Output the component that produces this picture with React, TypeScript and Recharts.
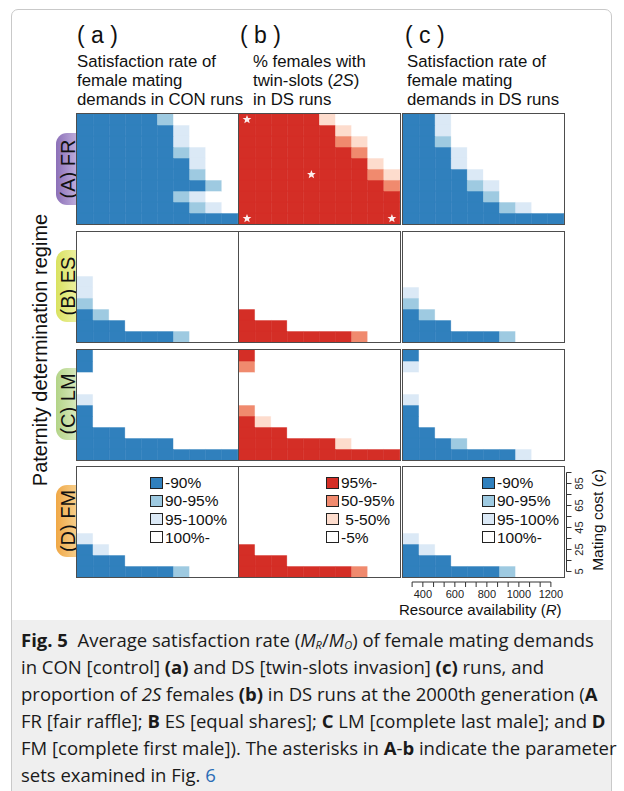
import React from 'react';
import { BarChart, Bar, XAxis, YAxis, Cell, LabelList } from 'recharts';

// resource availability (columns) and mating cost (rows, top to bottom)
const R_VALUES = [300, 400, 500, 600, 700, 800, 900, 1000, 1100, 1200];
const C_VALUES = [95, 85, 75, 65, 55, 45, 35, 25, 15, 5];
const R_TICKS = [333, 400, 467, 533, 600, 667, 733, 800, 867, 933, 1000, 1067, 1133, 1200];
const R_LABELS = [400, 600, 800, 1000, 1200];
const C_TICKS = [5, 15, 25, 35, 45, 55, 65, 75, 85, 95];
const C_LABELS = [5, 25, 45, 65, 85];
const R_DOMAIN = [276, 1282];

const BLUES = ['#3080bd', '#9ecae1', '#dbe9f6', '#ffffff'];
const REDS = ['#d42e26', '#f08a6e', '#fddccd', '#ffffff'];
const SAT_LEGEND = ['-90%', '90-95%', '95-100%', '100%-'];
const TWIN_LEGEND = ['95%-', '50-95%', ' 5-50%', '-5%'];

// class per cell, one string per row from c=95 (top) down to c=5
const FR_CON = ['0000013333', '0000002333', '0000002333', '0000001233', '0000000233', '0000000133', '0000000013', '0000001233', '0000000123', '0000000000'];
const FR_TWIN = ['0000023333', '0000002333', '0000001233', '0000000133', '0000000023', '0000000012', '0000000001', '0000000000', '0000000000', '0000000000'];
const FR_DS = ['0023333333', '0023333333', '0013333333', '0002333333', '0002333333', '0000233333', '0000123333', '0000013333', '0000001233', '0000000000'];
const ES_CON = ['3333333333', '3333333333', '3333333333', '3333333333', '2333333333', '2333333333', '1333333333', '0133333333', '0003333333', '0000001333'];
const ES_TWIN = ['3333333333', '3333333333', '3333333333', '3333333333', '3333333333', '3333333333', '3333333333', '0333333333', '0003333333', '0000000133'];
const ES_DS = ['3333333333', '3333333333', '3333333333', '3333333333', '3333333333', '2333333333', '1333333333', '0133333333', '0003333333', '0000001333'];
const LM_CON = ['0333333333', '0333333333', '3333333333', '3333333333', '2333333333', '0333333333', '0333333333', '0003333333', '0000003333', '0000000000'];
const LM_TWIN = ['0333333333', '1333333333', '3333333333', '3333333333', '3333333333', '1333333333', '0233333333', '0003333333', '0000002333', '0000000000'];
const LM_DS = ['0333333333', '2333333333', '3333333333', '3333333333', '2333333333', '0333333333', '0333333333', '0033333333', '0001333333', '0000000233'];
const FM_CON = ['3333333333', '3333333333', '3333333333', '3333333333', '3333333333', '3333333333', '2333333333', '0233333333', '0003333333', '0000001333'];
const FM_TWIN = ['3333333333', '3333333333', '3333333333', '3333333333', '3333333333', '3333333333', '3333333333', '0333333333', '0003333333', '0000000133'];
const FM_DS = ['3333333333', '3333333333', '3333333333', '3333333333', '3333333333', '3333333333', '2333333333', '0233333333', '0003333333', '0000001333'];

// asterisks in A-b: [column, row from top]
const FR_TWIN_STARS = [[0, 0], [4, 5], [0, 9], [9, 9]];

const GRIDS = [
  [FR_CON, FR_TWIN, FR_DS],
  [ES_CON, ES_TWIN, ES_DS],
  [LM_CON, LM_TWIN, LM_DS],
  [FM_CON, FM_TWIN, FM_DS],
];
const PALETTES = [BLUES, REDS, BLUES];
const ROW_NAMES = ['(A) FR', '(B) ES', '(C) LM', '(D) FM'];
const ROW_PILLS = [
  ['#8c70b8', '#cbbce4'],
  ['#d9e260', '#f1f4b0'],
  ['#b3d488', '#e2efcb'],
  ['#f0a846', '#f9d89c'],
];

const W = 161;
const H = 110;
const COL_LEFT = [77, 239, 403];
const ROW_TOP = [114, 232, 350, 467];

const cellData = R_VALUES.map((r) => {
  const d: any = { r };
  C_VALUES.forEach((c) => { d['c' + c] = 1; });
  return d;
});

const starPath = (cx: number, cy: number, ro: number, ri: number) => {
  let d = '';
  for (let k = 0; k < 10; k++) {
    const a = -Math.PI / 2 + (k * Math.PI) / 5;
    const rr = k % 2 === 0 ? ro : ri;
    d += (k === 0 ? 'M' : 'L') + (cx + rr * Math.cos(a)).toFixed(2) + ',' + (cy + rr * Math.sin(a)).toFixed(2);
  }
  return d + 'Z';
};

const RTick = (props: any) => {
  const { x, y, payload } = props;
  const i = R_TICKS.indexOf(payload.value);
  const ay = y + 5;
  const k = W / (R_DOMAIN[1] - R_DOMAIN[0]);
  const next = i < R_TICKS.length - 1 ? x + (R_TICKS[i + 1] - R_TICKS[i]) * k : x;
  return (
    <g>
      <line x1={x} x2={next} y1={ay} y2={ay} stroke="#333" strokeWidth={1} />
      <line x1={x} x2={x} y1={ay} y2={ay + 5} stroke="#333" strokeWidth={1} />
      {R_LABELS.includes(payload.value) && (
        <text x={x} y={ay + 12} textAnchor="middle" dominantBaseline="central" fontSize={11} fill="#222">
          {payload.value}
        </text>
      )}
    </g>
  );
};

const CTick = (props: any) => {
  const { x, y, payload } = props;
  const c = Math.round(payload.value * 10);
  const i = C_TICKS.indexOf(c);
  const ax = x + 2.5;
  const half = H / 20;
  const y1 = i === 0 ? y : y + half;
  const y2 = i === C_TICKS.length - 1 ? y : y - half;
  return (
    <g>
      <line x1={ax} x2={ax} y1={y1} y2={y2} stroke="#333" strokeWidth={1} />
      <line x1={ax} x2={ax + 5} y1={y} y2={y} stroke="#333" strokeWidth={1} />
      {C_LABELS.includes(c) && (
        <text x={ax + 12} y={y} textAnchor="middle" dominantBaseline="central" fontSize={11} fill="#222" transform={`rotate(-90 ${ax + 12} ${y})`}>
          {c}
        </text>
      )}
    </g>
  );
};

const Heatmap = ({ grid, colors, stars = [], withAxes = false }: any) => {
  const bottomUp = [...C_VALUES].reverse();
  return (
    <BarChart
      width={W + (withAxes ? 40 : 0)}
      height={H + (withAxes ? 32 : 0)}
      data={cellData}
      margin={{ top: 0, right: 0, bottom: 0, left: 0 }}
      barCategoryGap={0}
      barGap={0}
    >
      <XAxis xAxisId="cat" dataKey="r" type="category" hide height={0} />
      {withAxes && (
        <XAxis
          xAxisId="r"
          dataKey="r"
          type="number"
          domain={R_DOMAIN}
          allowDataOverflow
          ticks={R_TICKS}
          interval={0}
          height={32}
          axisLine={false}
          tickLine={false}
          tickSize={0}
          tickMargin={0}
          tick={<RTick />}
        />
      )}
      <YAxis
        yAxisId="n"
        type="number"
        domain={[0, 10]}
        allowDataOverflow
        orientation="right"
        hide={!withAxes}
        width={40}
        ticks={C_TICKS.map((c) => c / 10)}
        interval={0}
        axisLine={false}
        tickLine={false}
        tickSize={0}
        tickMargin={0}
        tick={<CTick />}
      />
      {withAxes && <Bar dataKey="none" xAxisId="r" yAxisId="n" isAnimationActive={false} />}
      {bottomUp.map((c) => {
        const rowTop = C_VALUES.indexOf(c);
        const rowStars = stars.filter((s: number[]) => s[1] === rowTop).map((s: number[]) => s[0]);
        return (
          <Bar key={c} dataKey={'c' + c} stackId="s" xAxisId="cat" yAxisId="n" isAnimationActive={false}>
            {R_VALUES.map((r, i) => {
              const fill = colors[Number(grid[rowTop][i])];
              return <Cell key={r} fill={fill} stroke={fill} strokeWidth={0.6} />;
            })}
            {rowStars.length > 0 && (
              <LabelList
                dataKey={'c' + c}
                content={(p: any) => {
                  if (!rowStars.includes(p.index)) return null;
                  const cx = p.x + p.width / 2;
                  const cy = p.y + p.height / 2;
                  return <path d={starPath(cx, cy, 4.6, 2.0)} fill="#fff" fillOpacity={0.92} />;
                }}
              />
            )}
          </Bar>
        );
      })}
    </BarChart>
  );
};

const LegendBox = ({ left, top, colors, labels }: any) => (
  <div style={{ position: 'absolute', left, top }}>
    {labels.map((l: string, i: number) => (
      <div key={l} style={{ position: 'absolute', left: 0, top: i * 18.3, display: 'flex', alignItems: 'center', height: 13, whiteSpace: 'pre' }}>
        <div style={{ width: 13, height: 12, boxSizing: 'border-box', border: '1.5px solid #222', background: colors[i] }} />
        <span style={{ fontSize: 15.5, marginLeft: 2, lineHeight: '13px', color: '#111' }}>{l}</span>
      </div>
    ))}
  </div>
);

const abs = (left: number, top: number, extra: any = {}) => ({ position: 'absolute' as const, left, top, ...extra });

const subStyle = { fontSize: 11, lineHeight: '11px', position: 'relative' as const, top: 2 };

export default function App() {
  const titleStyle = { fontSize: 16.8, lineHeight: '19px', whiteSpace: 'nowrap' as const };
  return (
    <div style={{ position: 'absolute', left: 0, top: 0, width: 624, height: 791, background: '#fff', overflow: 'hidden', fontFamily: '"Liberation Sans", Arial, sans-serif', color: '#111' }}>
      <div style={abs(11, 9, { width: 601, height: 800, border: '1px solid #c9c9c9', borderRadius: 7, boxSizing: 'border-box' })} />
      <div style={abs(12, 620, { width: 599, height: 180, background: '#efefef' })} />

      {['( a )', '( b )', '( c )'].map((t, i) => (
        <div key={t} style={abs([77, 240, 405][i], 21, { fontSize: 23, lineHeight: '28px', whiteSpace: 'pre' })}>{t}</div>
      ))}
      <div style={abs(77, 51.5, titleStyle)}>Satisfaction rate of<br />female mating<br />demands in CON runs</div>
      <div style={abs(253, 51.5, titleStyle)}>% females with<br />twin-slots (<i>2S</i>)<br />in DS runs</div>
      <div style={abs(407, 51.5, titleStyle)}>Satisfaction rate of<br />female mating<br />demands in DS runs</div>

      <div style={abs(40, 350, { transform: 'translate(-50%, -50%) rotate(-90deg)', fontSize: 20, whiteSpace: 'nowrap' })}>Paternity determination regime</div>

      {ROW_NAMES.map((n, ri) => {
        const cy = [169, 286, 404, 521][ri];
        return (
          <React.Fragment key={n}>
            <div style={abs(56, cy - 36, { width: 26, height: 72, borderRadius: '11px 0 0 11px', background: `linear-gradient(to right, ${ROW_PILLS[ri][0]}, ${ROW_PILLS[ri][1]})` })} />
            <div style={abs(67.5, cy, { transform: 'translate(-50%, -50%) rotate(-90deg)', fontSize: 20, whiteSpace: 'nowrap' })}>{n}</div>
          </React.Fragment>
        );
      })}

      {GRIDS.map((row, ri) =>
        row.map((grid, ci) => (
          <React.Fragment key={`${ri}-${ci}`}>
            <div style={abs(COL_LEFT[ci], ROW_TOP[ri])}>
              <Heatmap
                grid={grid}
                colors={PALETTES[ci]}
                stars={ri === 0 && ci === 1 ? FR_TWIN_STARS : []}
                withAxes={ri === 3 && ci === 2}
              />
            </div>
            <div style={abs(COL_LEFT[ci] - 1, ROW_TOP[ri] - 1, { width: W + 2, height: H + 2, border: '1.5px solid #4d4d4d', boxSizing: 'border-box', pointerEvents: 'none' })} />
          </React.Fragment>
        ))
      )}

      <LegendBox left={150} top={476} colors={BLUES} labels={SAT_LEGEND} />
      <LegendBox left={326} top={476} colors={REDS} labels={TWIN_LEGEND} />
      <LegendBox left={482} top={476} colors={BLUES} labels={SAT_LEGEND} />

      <div style={abs(598, 520, { transform: 'translate(-50%, -50%) rotate(-90deg)', fontSize: 15.5, whiteSpace: 'nowrap' })}>Mating cost (<i>c</i>)</div>
      <div style={abs(399, 601, { fontSize: 15, lineHeight: '17px', whiteSpace: 'nowrap' })}>Resource availability (<i>R</i>)</div>

      <div style={abs(21, 626, { width: 595, fontFamily: '"Open Sans", sans-serif', fontSize: 18.5, lineHeight: '27px', color: '#1a1a1a', whiteSpace: 'nowrap' })}>
        <div><b>Fig. 5</b>&nbsp;&nbsp;Average satisfaction rate (<i>M</i><i style={subStyle}>R</i>/<i>M</i><i style={subStyle}>O</i>) of female mating demands</div>
        <div>in CON [control] <b>(a)</b> and DS [twin-slots invasion] <b>(c)</b> runs, and</div>
        <div>proportion of <i>2S</i> females <b>(b)</b> in DS runs at the 2000th generation (<b>A</b></div>
        <div>FR [fair raffle]; <b>B</b> ES [equal shares]; <b>C</b> LM [complete last male]; and <b>D</b></div>
        <div>FM [complete first male]). The asterisks in <b>A</b>-<b>b</b> indicate the parameter</div>
        <div>sets examined in Fig. <span style={{ color: '#2b6cb6' }}>6</span></div>
      </div>
    </div>
  );
}
